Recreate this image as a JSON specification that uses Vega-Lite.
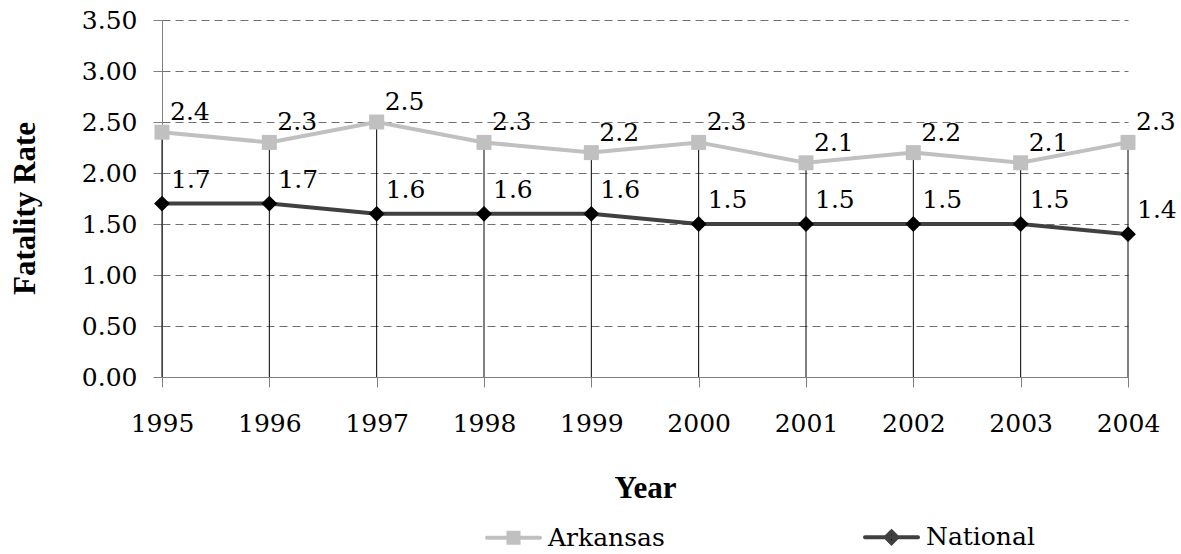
{
  "$schema": "https://vega.github.io/schema/vega-lite/v6.json",
  "width": 966,
  "height": 357,
  "autosize": {"type": "none"},
  "padding": {"left": 162, "top": 20, "right": 53, "bottom": 177},
  "background": "white",
  "config": {
    "font": "DejaVu Serif",
    "view": {"stroke": null},
    "axis": {
      "labelFont": "DejaVu Serif",
      "labelFontSize": 25,
      "labelColor": "black",
      "titleFont": "Liberation Serif",
      "titleFontSize": 31,
      "titleFontWeight": "bold",
      "titleColor": "black",
      "domainColor": "#808080",
      "tickColor": "#808080",
      "domainWidth": 1,
      "tickWidth": 1
    }
  },
  "data": {
    "values": [
      {"year": 1995, "series": "Arkansas", "value": 2.4},
      {"year": 1996, "series": "Arkansas", "value": 2.3},
      {"year": 1997, "series": "Arkansas", "value": 2.5},
      {"year": 1998, "series": "Arkansas", "value": 2.3},
      {"year": 1999, "series": "Arkansas", "value": 2.2},
      {"year": 2000, "series": "Arkansas", "value": 2.3},
      {"year": 2001, "series": "Arkansas", "value": 2.1},
      {"year": 2002, "series": "Arkansas", "value": 2.2},
      {"year": 2003, "series": "Arkansas", "value": 2.1},
      {"year": 2004, "series": "Arkansas", "value": 2.3},
      {"year": 1995, "series": "National", "value": 1.7},
      {"year": 1996, "series": "National", "value": 1.7},
      {"year": 1997, "series": "National", "value": 1.6},
      {"year": 1998, "series": "National", "value": 1.6},
      {"year": 1999, "series": "National", "value": 1.6},
      {"year": 2000, "series": "National", "value": 1.5},
      {"year": 2001, "series": "National", "value": 1.5},
      {"year": 2002, "series": "National", "value": 1.5},
      {"year": 2003, "series": "National", "value": 1.5},
      {"year": 2004, "series": "National", "value": 1.4}
    ]
  },
  "encoding": {
    "x": {
      "field": "year",
      "type": "quantitative",
      "scale": {"domain": [1995, 2004], "nice": false, "zero": false},
      "axis": {
        "title": "Year",
        "values": [1995, 1996, 1997, 1998, 1999, 2000, 2001, 2002, 2003, 2004],
        "format": "d",
        "grid": false,
        "tickSize": 10,
        "labelPadding": 24,
        "labelFlush": false,
        "labelOverlap": false,
        "titleY": 120,
        "titleBaseline": "alphabetic"
      }
    },
    "y": {
      "field": "value",
      "type": "quantitative",
      "scale": {"domain": [0, 3.5], "nice": false},
      "axis": {
        "title": "Fatality Rate",
        "values": [0, 0.5, 1, 1.5, 2, 2.5, 3, 3.5],
        "format": ".2f",
        "grid": true,
        "gridDash": [8, 5],
        "gridColor": "#707070",
        "gridWidth": 1,
        "tickSize": 9,
        "labelPadding": 16,
        "titleX": -128,
        "titleY": 188,
        "titleAngle": -90,
        "titleAlign": "center",
        "titleBaseline": "alphabetic"
      }
    }
  },
  "layer": [
    {
      "transform": [{"filter": "datum.series === 'Arkansas'"}],
      "mark": {"type": "rule", "color": "black", "strokeWidth": 1},
      "encoding": {"y2": {"datum": 0}}
    },
    {
      "mark": {"type": "line", "strokeWidth": 4},
      "encoding": {
        "color": {
          "field": "series",
          "type": "nominal",
          "scale": {"domain": ["Arkansas", "National"], "range": ["#C0C0C0", "#404040"]},
          "legend": {
            "orient": "none",
            "legendX": 323,
            "legendY": 488.5,
            "direction": "horizontal",
            "title": null,
            "padding": 0,
            "symbolSize": 2809,
            "symbolStrokeWidth": 4,
            "labelFont": "DejaVu Serif",
            "labelFontSize": 25,
            "labelColor": "black",
            "labelOffset": 6,
            "labelLimit": 400,
            "columnPadding": 192,
            "encode": {
              "symbols": {
                "update": {
                  "shape": {"signal": "datum.value === 'Arkansas' ? 'M-1,0H1M-0.19,-0.19H0.19V0.19H-0.19Z' : 'M-1,0H1M0,-0.22L0.22,0L0,0.22L-0.22,0Z'"},
                  "fill": {"signal": "datum.value === 'Arkansas' ? '#C0C0C0' : '#000000'"},
                  "stroke": {"signal": "datum.value === 'Arkansas' ? '#C0C0C0' : '#404040'"},
                  "strokeCap": {"value": "round"},
                  "opacity": {"value": 1}
                }
              }
            }
          }
        }
      }
    },
    {
      "transform": [{"filter": "datum.series === 'Arkansas'"}],
      "mark": {"type": "point", "filled": true, "opacity": 1, "size": 225, "shape": "square", "color": "#C0C0C0"}
    },
    {
      "transform": [{"filter": "datum.series === 'National'"}],
      "mark": {"type": "point", "filled": true, "opacity": 1, "size": 250, "shape": "diamond", "color": "#000000"}
    },
    {
      "transform": [{"filter": "datum.series === 'Arkansas'"}],
      "mark": {"type": "text", "align": "left", "baseline": "middle", "dx": 8, "dy": -20, "fontSize": 25, "font": "DejaVu Serif", "color": "black"},
      "encoding": {"text": {"field": "value", "type": "quantitative", "format": ".1f"}}
    },
    {
      "transform": [{"filter": "datum.series === 'National'"}],
      "mark": {"type": "text", "align": "left", "baseline": "middle", "dx": 9, "dy": -24, "fontSize": 25, "font": "DejaVu Serif", "color": "black"},
      "encoding": {"text": {"field": "value", "type": "quantitative", "format": ".1f"}}
    }
  ]
}
